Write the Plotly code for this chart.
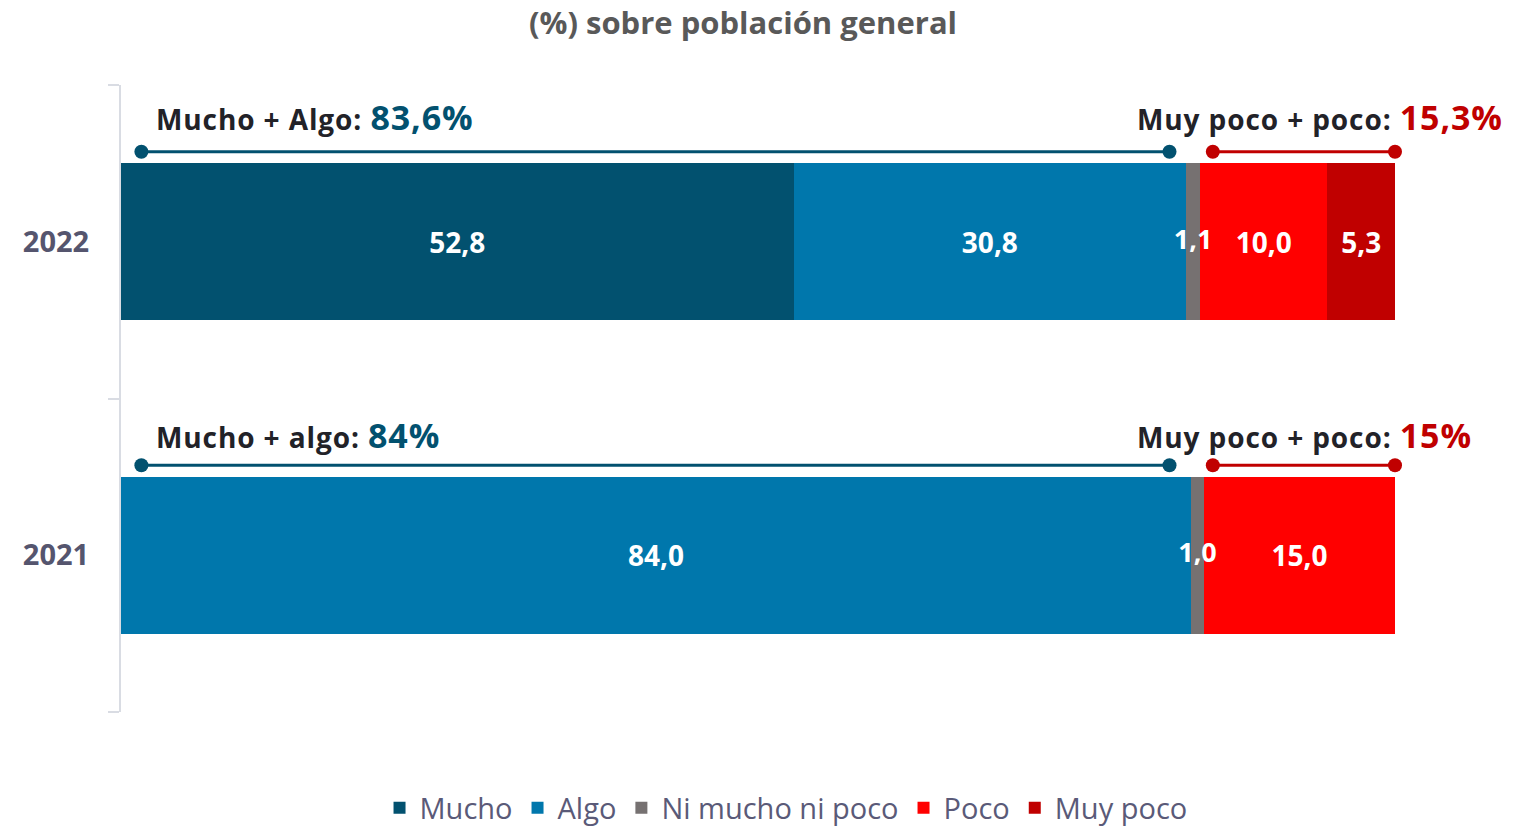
import plotly.graph_objects as go

# ---- data ----
years = ["2021", "2022"]
series_names = ["Mucho", "Algo", "Ni mucho ni poco", "Poco", "Muy poco"]
mucho = [0.0, 52.8]
algo = [84.0, 30.8]
ni = [1.0, 1.1]
poco = [15.0, 10.0]
muy_poco = [0.0, 5.3]
series_values = [mucho, algo, ni, poco, muy_poco]

pos_label = ["Mucho + algo", "Mucho + Algo"]
pos_total = ["84%", "83,6%"]
neg_label = ["Muy poco + poco", "Muy poco + poco"]
neg_total = ["15%", "15,3%"]

# bracket spans (x units on the 0-100 scale)
bracket_pos = [1.6, 82.3]
bracket_neg = [85.7, 100.0]

colors = ["#02516f", "#0077ac", "#767171", "#ff0000", "#c00000"]
FONT = "Open Sans"


def fmt(v):
    return "" if v == 0 else f"{v:.1f}".replace(".", ",")


fig = go.Figure()
for name, vals, col in zip(series_names, series_values, colors):
    small = name == "Ni mucho ni poco"
    fig.add_trace(go.Bar(
        y=years, x=vals, name=name, orientation="h",
        marker=dict(color=col, line=dict(width=0)),
        text=None if small else [fmt(v) for v in vals],
        textposition="inside", insidetextanchor="middle",
        textangle=0, constraintext="none", cliponaxis=False,
        textfont=dict(color="white", size=28, family=FONT, weight="bold"),
        hoverinfo="x+name",
    ))

# labels of the thin neutral segment, drawn on top of all bars
ni_mid = [m + a + n / 2 for m, a, n in zip(mucho, algo, ni)]
fig.add_trace(go.Scatter(
    x=ni_mid, y=years, mode="text", text=[fmt(v) for v in ni],
    textposition="middle center", showlegend=False, hoverinfo="skip",
    textfont=dict(color="white", size=27, family=FONT, weight="bold"),
    cliponaxis=False))

line_off = 0.287
text_off = [0.383, 0.397]
ls = "letter-spacing:0.9px"
for i, yr in enumerate(years):
    yv = i + line_off
    fig.add_trace(go.Scatter(
        x=bracket_pos, y=[yv, yv], yaxis="y2", mode="lines+markers",
        line=dict(color="#02516f", width=3), marker=dict(size=14, color="#02516f"),
        showlegend=False, hoverinfo="skip", cliponaxis=False))
    fig.add_trace(go.Scatter(
        x=bracket_neg, y=[yv, yv], yaxis="y2", mode="lines+markers",
        line=dict(color="#c00000", width=3), marker=dict(size=14, color="#c00000"),
        showlegend=False, hoverinfo="skip", cliponaxis=False))
    fig.add_annotation(
        x=2.6, y=i + text_off[i], xref="x", yref="y2", xanchor="left", yanchor="middle",
        showarrow=False,
        text=(f"<span style='{ls}'><b>{pos_label[i]}:</b> </span>"
              f"<b><span style='color:#02516f;font-size:34px;{ls}'>{pos_total[i]}</span></b>"),
        font=dict(size=28, color="#222228", family=FONT))
    fig.add_annotation(
        x=79.6, y=i + text_off[i], xref="x", yref="y2", xanchor="left", yanchor="middle",
        showarrow=False,
        text=(f"<span style='{ls}'><b>{neg_label[i]}:</b> </span>"
              f"<b><span style='color:#c00000;font-size:34px;{ls}'>{neg_total[i]}</span></b>"),
        font=dict(size=28, color="#222228", family=FONT))

fig.add_annotation(
    x=0.488, y=1, xref="paper", yref="paper", yanchor="middle", yshift=63,
    text="<b>(%) sobre población general</b>", showarrow=False,
    font=dict(size=31, color="#595959", family=FONT))

fig.update_layout(
    width=1531, height=833,
    barmode="stack", bargap=0.5,
    plot_bgcolor="white", paper_bgcolor="white",
    margin=dict(l=121, r=136, t=85, b=121),
    font=dict(family=FONT),
    xaxis=dict(range=[0, 100], visible=False),
    yaxis=dict(type="category", categoryorder="array", categoryarray=years,
               range=[-0.5, 1.5], showline=True, linecolor="#d9dce3", linewidth=2,
               ticks="outside", tickson="boundaries", ticklen=11, tickcolor="#d9dce3",
               tickwidth=2, showgrid=False, zeroline=False, ticklabelstandoff=24,
               tickfont=dict(size=29, color="#55556e", family=FONT, weight="bold")),
    yaxis2=dict(overlaying="y", range=[-0.5, 1.5], visible=False),
    legend=dict(orientation="h", x=0.522, xanchor="center",
                yref="container", y=0.03, yanchor="middle",
                font=dict(size=29, color="#5a5a78", family=FONT), traceorder="normal",
                itemwidth=30),
    showlegend=True,
)

fig.write_html("out.html", config={"displayModeBar": False},
               post_script="document.body.style.margin='0';")
